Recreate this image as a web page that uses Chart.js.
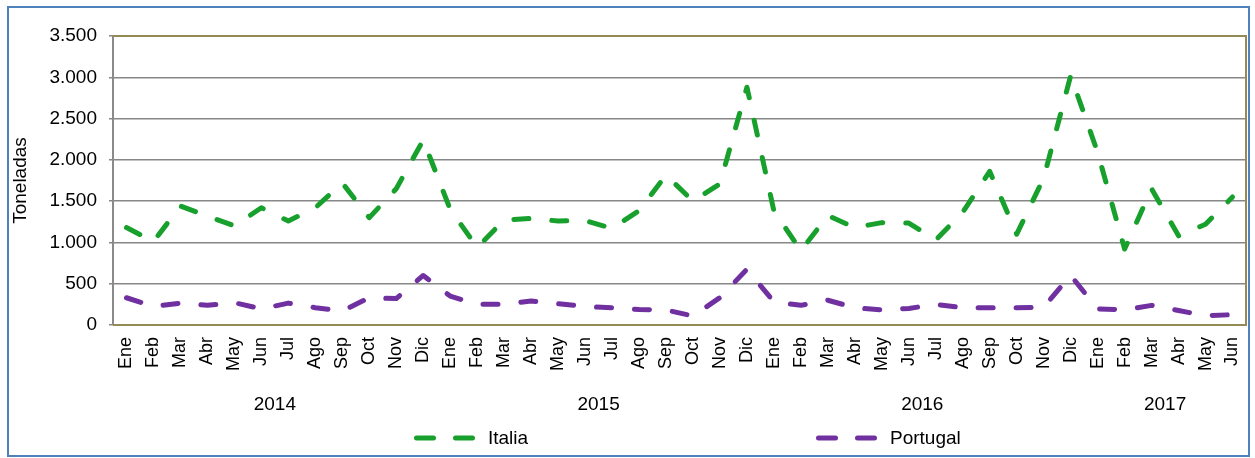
<!DOCTYPE html>
<html>
<head>
<meta charset="utf-8">
<script src="https://cdn.jsdelivr.net/npm/chart.js@4.4.1/dist/chart.umd.min.js"></script>
<style>
  html, body { margin: 0; padding: 0; background: #fff; }
  #wrap { position: relative; width: 1255px; height: 458px; }
  #frame {
    position: absolute; left: 7px; top: 6px; width: 1243px; height: 451px;
    border: 2px solid #4f81bd; box-sizing: border-box; pointer-events: none;
  }
</style>
</head>
<body>
<div id="wrap">
  <canvas id="myChart" width="1255" height="458"></canvas>
  <div id="frame"></div>
</div>
<script>
const monthLabels = [
  'Ene','Feb','Mar','Abr','May','Jun','Jul','Ago','Sep','Oct','Nov','Dic',
  'Ene','Feb','Mar','Abr','May','Jun','Jul','Ago','Sep','Oct','Nov','Dic',
  'Ene','Feb','Mar','Abr','May','Jun','Jul','Ago','Sep','Oct','Nov','Dic',
  'Ene','Feb','Mar','Abr','May','Jun'
];
const yearLabels = ['2014', '2015', '2016', '2017'];
// position of each year label (middle of its months, in category units)
const yearCenters = [5.5, 17.5, 29.5, 38.5];

const italia = [
  1180, 1010, 1440, 1320, 1200, 1420, 1260, 1420, 1720, 1300, 1650, 2240,
  1400, 940, 1270, 1290, 1260, 1265, 1170, 1385, 1815, 1500, 1710, 2880,
  1380, 900, 1325, 1180, 1240, 1235, 1030, 1365, 1860, 1100, 1780, 3020,
  2090, 920, 1650, 1080, 1220, 1550
];
const portugal = [
  330, 225, 265, 240, 270, 195, 265, 210, 170, 330, 320, 600,
  350, 250, 250, 290, 258, 225, 208, 188, 183, 108, 333, 675,
  280, 238, 300, 208, 183, 200, 250, 208, 208, 208, 217, 600,
  196, 183, 238, 175, 113, 125
];

const FONT = '"Liberation Sans", Arial, sans-serif';

function fmtMiles(v) {
  return String(v).replace(/\B(?=(\d{3})+(?!\d))/g, '.');
}

// border of the plot area (top, right, bottom in olive)
const plotBorder = {
  id: 'plotBorder',
  beforeDatasetsDraw(chart) {
    const {ctx, chartArea: a} = chart;
    ctx.save();
    ctx.strokeStyle = '#948a54';
    ctx.lineWidth = 2;
    ctx.beginPath();
    ctx.moveTo(a.left, a.top);
    ctx.lineTo(a.right, a.top);
    ctx.lineTo(a.right, a.bottom);
    ctx.lineTo(a.left, a.bottom);
    ctx.stroke();
    ctx.restore();
  }
};

// legend with dashed samples, spread like the original
const dashLegend = {
  id: 'dashLegend',
  afterDraw(chart, args, opts) {
    const {ctx, chartArea} = chart;
    const mid = (chartArea.left + chartArea.right) / 2;
    const y = chart.height - opts.bottom;
    chart.data.datasets.forEach((ds, i) => {
      const x = mid + opts.offsets[i];
      ctx.save();
      ctx.strokeStyle = ds.borderColor;
      ctx.lineWidth = ds.borderWidth;
      ctx.lineCap = 'round';
      ctx.setLineDash(opts.dash);
      ctx.beginPath();
      ctx.moveTo(x, y);
      ctx.lineTo(x + opts.lineLength, y);
      ctx.stroke();
      ctx.setLineDash([]);
      ctx.fillStyle = '#000';
      ctx.font = '19px ' + FONT;
      ctx.textBaseline = 'middle';
      ctx.fillText(ds.label, x + opts.lineLength + opts.gap, y + 1);
      ctx.restore();
    });
  }
};

const data = {
  labels: monthLabels,
  datasets: [
    {
      label: 'Italia',
      data: italia,
      borderColor: '#17a02b',
      backgroundColor: '#17a02b',
      borderWidth: 5,
      borderDash: [15, 23],
      borderCapStyle: 'round',
      borderJoinStyle: 'round',
      pointRadius: 0,
      tension: 0
    },
    {
      label: 'Portugal',
      data: portugal,
      borderColor: '#7030a0',
      backgroundColor: '#7030a0',
      borderWidth: 5,
      borderDash: [15, 23],
      borderCapStyle: 'round',
      borderJoinStyle: 'round',
      pointRadius: 0,
      tension: 0
    }
  ]
};

const config = {
  type: 'line',
  data: data,
  plugins: [plotBorder, dashLegend],
  options: {
    responsive: false,
    animation: false,
    layout: { padding: { left: 0, right: 9, top: 36, bottom: 35 } },
    plugins: {
      legend: { display: false },
      tooltip: { enabled: false },
      dashLegend: { offsets: [-263, 139], lineLength: 56, gap: 15.5, bottom: 20, dash: [17, 22] }
    },
    scales: {
      x: {
        type: 'category',
        offset: true,
        weight: 0,
        grid: { display: false, drawTicks: false },
        border: { display: false },
        ticks: {
          autoSkip: false,
          minRotation: 90,
          maxRotation: 90,
          padding: 12,
          color: '#000',
          font: { family: FONT, size: 18 }
        },
        afterFit: (s) => { s.height = 58; s.paddingLeft = 0; s.paddingRight = 0; }
      },
      years: {
        type: 'linear',
        position: 'bottom',
        weight: 1,
        min: -0.5,
        max: monthLabels.length - 0.5,
        grid: { display: false, drawTicks: false },
        border: { display: false },
        afterBuildTicks: (s) => { s.ticks = yearCenters.map(v => ({ value: v })); },
        ticks: {
          autoSkip: false,
          maxRotation: 0,
          padding: 10,
          color: '#000',
          font: { family: FONT, size: 19 },
          callback: (v, i) => yearLabels[i]
        },
        afterFit: (s) => { s.height = 40; s.paddingLeft = 0; s.paddingRight = 0; }
      },
      y: {
        min: 0,
        max: 3500,
        ticks: {
          stepSize: 500,
          padding: 12,
          color: '#000',
          font: { family: FONT, size: 19 },
          callback: (v) => fmtMiles(v)
        },
        grid: { color: '#878787', lineWidth: 1.5, tickLength: 4 },
        border: { color: '#8a8a8a', width: 2 },
        title: {
          display: true,
          text: 'Toneladas',
          color: '#000',
          font: { family: FONT, size: 19 },
          padding: { top: 9, bottom: 0 }
        },
        afterFit: (s) => { s.width = 113; }
      }
    }
  }
};

const myChart = new Chart(document.getElementById('myChart'), config);
</script>
</body>
</html>
